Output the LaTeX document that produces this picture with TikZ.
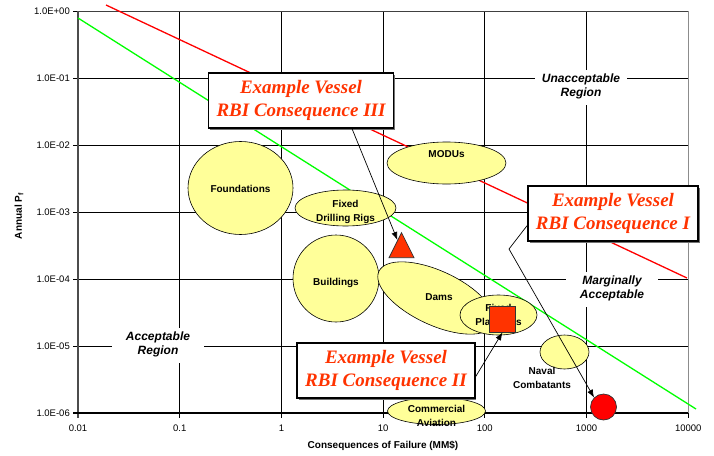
\documentclass[tikz,border=0pt]{standalone}
\usepackage{fontspec}
\setmainfont{Liberation Sans}
\newfontfamily\calloutserif{Liberation Serif}
\usetikzlibrary{arrows.meta,positioning,shapes.geometric,shadows}

\definecolor{zonefill}{HTML}{FFFF99}
\definecolor{calloutred}{HTML}{FF3300}
\definecolor{limitred}{HTML}{FF0000}
\definecolor{limitgreen}{HTML}{00FF00}

\tikzset{
  zone/.style={ellipse, draw=black, line width=0.6pt, fill=zonefill, inner sep=0pt},
  zonetext/.style={font=\fontsize{10}{13.5}\selectfont\bfseries, inner sep=0pt},
  region/.style={fill=white, inner sep=0pt, minimum width=92pt, minimum height=35pt,
    font=\fontsize{12}{14}\selectfont\bfseries\itshape},
  callout/.style={draw=black, line width=1.6pt, fill=white, text=calloutred,
    inner xsep=2pt, inner ysep=0pt, minimum height=55pt,
    font=\fontsize{19}{23}\selectfont\calloutserif\bfseries\itshape,
    drop shadow={shadow xshift=1.6pt, shadow yshift=-1.6pt, fill=black!55, opacity=1}},
  tick/.style={font=\fontsize{9.5}{11}\selectfont, inner sep=0pt},
  marker/.style={draw=black!80, line width=0.7pt, fill=calloutred, inner sep=0pt},
}

\begin{document}
\begin{tikzpicture}[x=1pt, y=-1pt, >={Latex[length=8pt,width=6pt]}]
    \useasboundingbox (0,0) rectangle (714,455);

    % GRID
    \foreach \i in {1,...,5}
      \draw[line width=0.8pt] (78+101.7*\i,11) -- (78+101.7*\i,413);
    \foreach \j in {1,...,5}
      \draw[line width=0.8pt] (78,11+67*\j) -- (688.2,11+67*\j);
    \draw[line width=0.8pt, black!75] (78,11) -- (688.2,11);
    \draw[line width=1.1pt, black!45] (688.2,11) -- (688.2,413);

    % AXES
    \foreach \i in {0,...,6}
      \draw[line width=0.8pt] (73,11+67*\i) -- (78,11+67*\i);
    \foreach \i in {0,...,6}
      \draw[line width=0.8pt] (78+101.7*\i,413) -- (78+101.7*\i,418);
    \draw[line width=1.4pt, black!70] (78,11) -- (78,418);
    \draw[line width=1.2pt] (73,413) -- (688.2,413);

    \foreach \lab [count=\i from 0] in {1.0E+00,1.0E-01,1.0E-02,1.0E-03,1.0E-04,1.0E-05,1.0E-06}
      \node[tick, anchor=east] (YTICK_\i) at (70,11+67*\i) {\lab};
    \foreach \lab [count=\i from 0] in {0.01,0.1,1,10,100,1000,10000}
      \node[tick] (XTICK_\i) at (78+101.7*\i,428) {\lab};

    \node[font=\fontsize{10}{12}\selectfont\bfseries] (X_TITLE) at (383,446)
      {Consequences of Failure (MM\$)};
    \node[font=\fontsize{10}{12}\selectfont\bfseries, rotate=90] (Y_TITLE) at (19,216)
      {Annual P$_{\mathbf{f}}$};

    % LIMIT LINES
    \draw[line width=1.3pt, limitred] (106,5) -- (687,278);
    \draw[line width=1.3pt, limitgreen] (78,18) -- (696,409);

    % ZONES
    \node[zone, minimum width=105pt, minimum height=93pt] (FOUNDATIONS) at (240.5,188) {};
    \node[zonetext] (FOUNDATIONS_LABEL) at ([yshift=-1pt]FOUNDATIONS) {Foundations};

    \node[zone, minimum width=119pt, minimum height=42pt] (MODUS) at (446.5,163) {};
    \node[zonetext, below=9pt of MODUS.north] (MODUS_LABEL) {MODUs};

    \node[zone, minimum width=101pt, minimum height=36pt] (FIXED_DRILLING_RIGS) at (345.5,208) {};
    \node[zonetext] (FIXED_DRILLING_RIGS_LABEL) at ([yshift=-4pt]FIXED_DRILLING_RIGS)
    {
      \begin{tabular}{c}
        Fixed \\ Drilling Rigs
      \end{tabular}
    };

    \node[zone, minimum width=86pt, minimum height=87pt] (BUILDINGS) at (336,278.5) {};
    \node[zonetext] (BUILDINGS_LABEL) at ([yshift=-4pt]BUILDINGS) {Buildings};

    \node[zone, rotate=-25, minimum width=126pt, minimum height=54pt] (DAMS) at (436,298) {};
    \node[zonetext] (DAMS_LABEL) at (439,297) {Dams};

    \node[zone, minimum width=77pt, minimum height=40pt] (FIXED_PLATFORMS) at (498.5,315) {};
    \node[zonetext] (FIXED_PLATFORMS_LABEL) at ([yshift=-1pt]FIXED_PLATFORMS)
    {
      \begin{tabular}{c}
        Fixed \\ Platforms
      \end{tabular}
    };

    \node[zone, minimum width=49pt, minimum height=34pt] (NAVAL_COMBATANTS) at (564.5,352) {};
    \node[zonetext] (NAVAL_COMBATANTS_LABEL) at (542,379)
    {
      \begin{tabular}{c}
        Naval \\ Combatants
      \end{tabular}
    };

    \node[zone, minimum width=98pt, minimum height=27pt] (COMMERCIAL_AVIATION) at (436.5,411) {};
    \node[zonetext] (COMMERCIAL_AVIATION_LABEL) at ([yshift=-6pt]COMMERCIAL_AVIATION)
    {
      \begin{tabular}{c}
        Commercial \\ Aviation
      \end{tabular}
    };

    % REGIONS
    \node[region] (UNACCEPTABLE) at (581,87)
    {
      \begin{tabular}{c}
        Unacceptable \\ Region
      \end{tabular}
    };
    \node[region] (MARGINAL) at (612,289)
    {
      \begin{tabular}{c}
        Marginally \\ Acceptable
      \end{tabular}
    };
    \node[region] (ACCEPTABLE) at (158,345)
    {
      \begin{tabular}{c}
        Acceptable \\ Region
      \end{tabular}
    };

    % MARKERS
    \node[marker, isosceles triangle, isosceles triangle stretches,
      shape border rotate=90, minimum width=25pt, minimum height=25pt] (TRIANGLE) at (401.5,250) {};
    \node[marker, minimum size=26pt] (SQUARE) at (502.5,319) {};
    \node[marker, circle, fill=limitred, minimum size=26pt] (CIRCLE) at (603.5,407) {};

    % CALLOUTS
    \node[callout] (VESSEL_III) at (301,100.5)
    {
      \begin{tabular}{c}
        Example Vessel \\ RBI Consequence III
      \end{tabular}
    };
    \node[callout] (VESSEL_I) at (613,213.5)
    {
      \begin{tabular}{c}
        Example Vessel \\ RBI Consequence I
      \end{tabular}
    };
    \node[callout] (VESSEL_II) at (386,370.5)
    {
      \begin{tabular}{c}
        Example Vessel \\ RBI Consequence II
      \end{tabular}
    };
    \coordinate (BEND_I) at (509,249);

    % LINES
    \path[->, line width=0.7pt]
    (VESSEL_III.-29) edge (TRIANGLE)
    (VESSEL_II.-4) edge (SQUARE.south)
    ;
    \draw[->, line width=0.7pt] (VESSEL_I.188) -- (BEND_I) -- (CIRCLE.north west);
\end{tikzpicture}
\end{document}
